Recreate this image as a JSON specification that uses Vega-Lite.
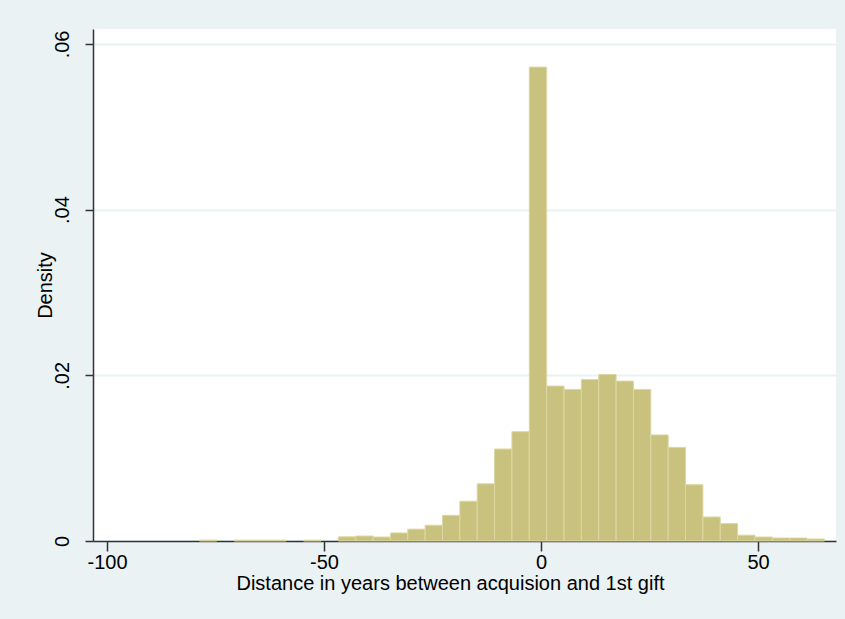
{
  "$schema": "https://vega.github.io/schema/vega-lite/v6.json",
  "width": 743,
  "height": 512,
  "autosize": {"type": "none"},
  "padding": {"left": 93, "top": 29, "right": 9, "bottom": 78},
  "background": "#EAF2F3",
  "config": {
    "view": {"fill": "white", "stroke": null},
    "font": "Liberation Sans"
  },
  "data": {
    "values": [
      {"start": -78.7, "end": -74.7, "density": 0.00012},
      {"start": -70.7, "end": -66.7, "density": 0.0001},
      {"start": -66.7, "end": -62.7, "density": 0.0001},
      {"start": -62.7, "end": -58.7, "density": 0.0001},
      {"start": -54.7, "end": -50.7, "density": 0.0001},
      {"start": -46.7, "end": -42.7, "density": 0.0005},
      {"start": -42.7, "end": -38.7, "density": 0.0006},
      {"start": -38.7, "end": -34.7, "density": 0.00048},
      {"start": -34.7, "end": -30.7, "density": 0.00097},
      {"start": -30.7, "end": -26.7, "density": 0.00143},
      {"start": -26.7, "end": -22.7, "density": 0.0019},
      {"start": -22.7, "end": -18.7, "density": 0.0031},
      {"start": -18.7, "end": -14.7, "density": 0.0048},
      {"start": -14.7, "end": -10.7, "density": 0.0069},
      {"start": -10.7, "end": -6.7, "density": 0.0111},
      {"start": -6.7, "end": -2.7, "density": 0.0132},
      {"start": -2.7, "end": 1.3, "density": 0.0572},
      {"start": 1.3, "end": 5.3, "density": 0.0187},
      {"start": 5.3, "end": 9.3, "density": 0.0183},
      {"start": 9.3, "end": 13.3, "density": 0.0195},
      {"start": 13.3, "end": 17.3, "density": 0.0201},
      {"start": 17.3, "end": 21.3, "density": 0.0193},
      {"start": 21.3, "end": 25.3, "density": 0.0183},
      {"start": 25.3, "end": 29.3, "density": 0.0128},
      {"start": 29.3, "end": 33.3, "density": 0.0113},
      {"start": 33.3, "end": 37.3, "density": 0.0068},
      {"start": 37.3, "end": 41.3, "density": 0.0029},
      {"start": 41.3, "end": 45.3, "density": 0.0021},
      {"start": 45.3, "end": 49.3, "density": 0.0007},
      {"start": 49.3, "end": 53.3, "density": 0.00048},
      {"start": 53.3, "end": 57.3, "density": 0.00036},
      {"start": 57.3, "end": 61.3, "density": 0.00036},
      {"start": 61.3, "end": 65.3, "density": 0.00024}
    ]
  },
  "mark": {"type": "rect", "fill": "#C9C27E", "stroke": "#DCD7A3", "strokeWidth": 1},
  "encoding": {
    "x": {
      "field": "start",
      "type": "quantitative",
      "scale": {"domain": [-103.23, 67.97], "nice": false, "zero": false},
      "axis": {
        "values": [-100, -50, 0, 50],
        "labelExpr": "'' + datum.value",
        "grid": false,
        "domainColor": "#333333",
        "domainWidth": 1.5,
        "tickColor": "#333333",
        "tickWidth": 1.5,
        "tickSize": 10,
        "labelFontSize": 20,
        "labelColor": "#000000",
        "labelPadding": 1,
        "labelFlush": false,
        "title": "Distance in years between acquision and 1st gift",
        "titleFontSize": 20,
        "titleFontWeight": "normal",
        "titleColor": "#000000",
        "titleX": 357,
        "titleY": 48,
        "titleBaseline": "alphabetic"
      }
    },
    "x2": {"field": "end"},
    "y": {
      "field": "density",
      "type": "quantitative",
      "scale": {"domain": [0, 0.0618], "nice": false},
      "axis": {
        "values": [0, 0.02, 0.04, 0.06],
        "labelExpr": "datum.value == 0 ? '0' : replace(format(datum.value, '.2f'), '0.', '.')",
        "grid": true,
        "gridColor": "#EAF2F3",
        "gridWidth": 2,
        "domainColor": "#333333",
        "domainWidth": 1.5,
        "tickColor": "#333333",
        "tickWidth": 1.5,
        "tickSize": 8,
        "labelAngle": -90,
        "labelAlign": "center",
        "labelBaseline": "bottom",
        "labelFontSize": 20,
        "labelColor": "#000000",
        "labelPadding": 13,
        "title": "Density",
        "titleFontSize": 20,
        "titleFontWeight": "normal",
        "titleColor": "#000000",
        "titleAngle": -90,
        "titleX": -42,
        "titleY": 256,
        "titleAlign": "center",
        "titleBaseline": "alphabetic"
      }
    }
  }
}
